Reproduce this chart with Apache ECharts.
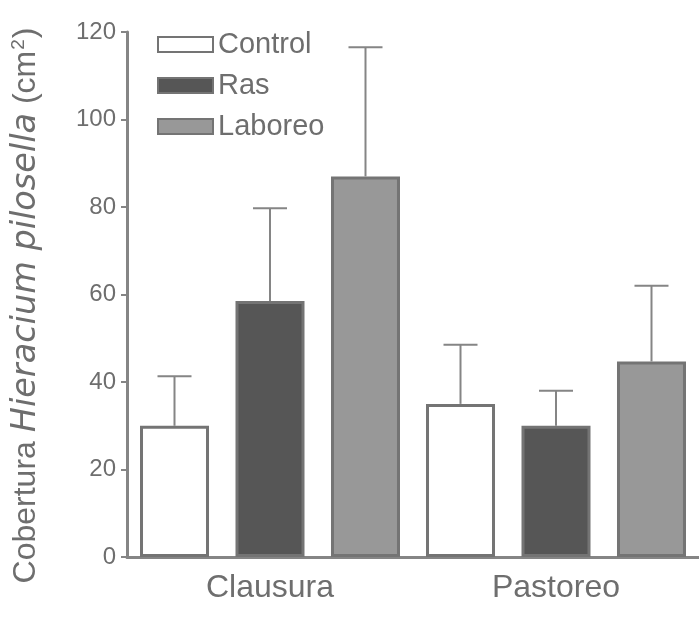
<!DOCTYPE html>
<html>
<head>
<meta charset="utf-8">
<script src="https://cdn.jsdelivr.net/npm/echarts@6/dist/echarts.min.js"></script>
<style>
  html, body { margin: 0; padding: 0; background: #fff; }
  #chart { width: 699px; height: 618px; }
</style>
</head>
<body>
<div id="chart"></div>
<script>
var categories = ['Clausura', 'Pastoreo'];
var seriesNames = ['Control', 'Ras', 'Laboreo'];
var controlMean = [30, 35];
var rasMean = [58.5, 30];
var laboreoMean = [87, 44.7];
var controlUpper = [41.3, 48.5];
var rasUpper = [79.7, 38];
var laboreoUpper = [116.5, 62];
var yTicks = [0, 20, 40, 60, 80, 100, 120];

var means = [controlMean, rasMean, laboreoMean];
var uppers = [controlUpper, rasUpper, laboreoUpper];
var fills = ['#ffffff', '#565656', '#989898'];
var borderColor = '#747474';
var textColor = '#6e6e6e';
var font = 'Liberation Sans, Arial';
var barWidth = 69;
var barGap = 0.384;

var myChart = echarts.init(document.getElementById('chart'));

var series = [];
seriesNames.forEach(function (name, i) {
    series.push({
        name: name,
        type: 'bar',
        barWidth: barWidth,
        barGap: (barGap * 100) + '%',
        itemStyle: {
            color: fills[i],
            borderColor: borderColor,
            borderWidth: 3
        },
        data: means[i]
    });
});

// upper error whiskers
seriesNames.forEach(function (name, i) {
    series.push({
        type: 'custom',
        z: 1,
        silent: true,
        renderItem: function (params, api) {
            var idx = api.value(0);
            var top = api.coord([idx, api.value(2)]);
            var base = api.coord([idx, api.value(1)]);
            var x = top[0] + (i - 1) * barWidth * (1 + barGap);
            var style = { stroke: '#858585', lineWidth: 2 };
            return {
                type: 'group',
                children: [
                    { type: 'line', shape: { x1: x, y1: base[1], x2: x, y2: top[1] }, style: style },
                    { type: 'line', shape: { x1: x - 17, y1: top[1], x2: x + 17, y2: top[1] }, style: style }
                ]
            };
        },
        data: categories.map(function (c, k) {
            return [k, means[i][k], uppers[i][k]];
        })
    });
});

var option = {
    backgroundColor: '#ffffff',
    animation: false,
    legend: {
        data: seriesNames,
        icon: 'rect',
        orient: 'vertical',
        left: 152,
        top: 25,
        itemWidth: 55,
        itemHeight: 15,
        itemGap: 12,
        textStyle: {
            fontFamily: font,
            fontSize: 29,
            color: textColor
        }
    },
    grid: {
        left: 127,
        top: 32,
        width: 580,
        bottom: 61
    },
    xAxis: {
        type: 'category',
        data: categories,
        axisLine: { lineStyle: { color: '#858585', width: 3 } },
        axisTick: { show: false },
        axisLabel: {
            margin: 15,
            fontFamily: font,
            fontSize: 32,
            color: textColor
        }
    },
    yAxis: {
        type: 'value',
        min: yTicks[0],
        max: yTicks[yTicks.length - 1],
        interval: 20,
        splitLine: { show: false },
        axisLine: { show: true, lineStyle: { color: '#858585', width: 3 } },
        axisTick: { show: true, length: 6, lineStyle: { color: '#858585', width: 2 } },
        axisLabel: {
            margin: 11,
            fontFamily: font,
            fontSize: 24,
            color: textColor
        },
        name: '{n|Cobertura }{i|Hieracium pilosella}{n| (cm}{s|2}{n|)}',
        nameLocation: 'middle',
        nameRotate: 90,
        nameGap: 84,
        nameTextStyle: {
            padding: [0, 22, 0, 0],
            rich: {
                n: { fontFamily: font, fontSize: 32, color: textColor },
                i: { fontFamily: 'DejaVu Sans', fontSize: 33.5, fontStyle: 'italic', color: textColor },
                s: { fontFamily: font, fontSize: 19, color: textColor, verticalAlign: 'top', padding: [0, 1, 14, 1] }
            }
        }
    },
    series: series
};

myChart.setOption(option);
</script>
</body>
</html>
